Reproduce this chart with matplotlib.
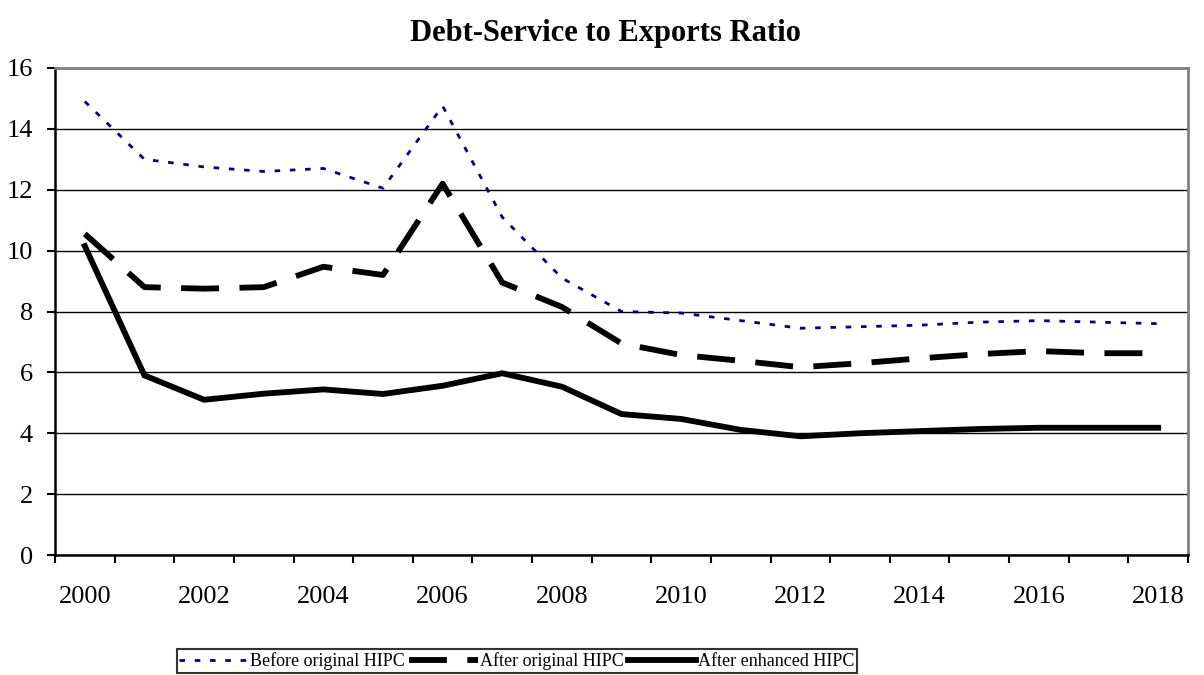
import matplotlib.pyplot as plt
import numpy as np

years = list(range(2000, 2019))
before_original = [14.9, 13.0, 12.75, 12.6, 12.7, 12.05, 14.75, 11.1, 9.1, 8.0,
                   7.95, 7.7, 7.45, 7.5, 7.55, 7.65, 7.7, 7.65, 7.6]
after_original = [10.55, 8.8, 8.75, 8.8, 9.47, 9.2, 12.2, 8.95, 8.15, 6.95,
                  6.57, 6.38, 6.17, 6.3, 6.46, 6.6, 6.7, 6.63, 6.63]
after_enhanced = [10.15, 5.9, 5.1, 5.3, 5.44, 5.29, 5.56, 5.97, 5.53, 4.63,
                  4.47, 4.11, 3.9, 4.0, 4.07, 4.14, 4.18, 4.18, 4.18]

plt.rcParams['font.family'] = ['Liberation Serif', 'DejaVu Serif']

fig = plt.figure(figsize=(12.04, 6.75), dpi=100)
ax = fig.add_axes([55 / 1204, 1 - 555 / 675, (1188 - 55) / 1204, (555 - 68) / 675])

x = np.arange(len(years))
ax.plot(x, before_original, color='#000080', lw=2.0, dashes=(2, 3.5),
        label='Before original HIPC')
ax.plot(x, after_original, color='black', lw=4.2, dashes=(6.5, 3.5),
        label='After original HIPC')
ax.plot(x, after_enhanced, color='black', lw=4.2, solid_joinstyle='miter',
        label='After enhanced HIPC')

ax.set_xlim(-0.5, len(years) - 0.5)
ax.set_ylim(0, 16)
ax.set_yticks(range(0, 17, 2))
ax.yaxis.grid(True, color='black', lw=1.0)
ax.set_axisbelow(True)

ax.set_xticks(x[::2])
ax.set_xticklabels([str(y) for y in years[::2]])
ax.set_xticks(np.arange(-0.5, len(years)), minor=True)
ax.tick_params(axis='x', which='major', length=0, pad=22, labelsize=19)
ax.tick_params(axis='x', which='minor', length=6, width=1.5, direction='out')
ax.tick_params(axis='y', length=6, width=1.5, pad=10, labelsize=19)

for side in ['left', 'bottom']:
    ax.spines[side].set_linewidth(1.8)
    ax.spines[side].set_color('black')
for side in ['top', 'right']:
    ax.spines[side].set_linewidth(2.0)
    ax.spines[side].set_color('#808080')

fig.text(605 / 1204, 1 - 33 / 675, 'Debt-Service to Exports Ratio', ha='center',
         va='center', fontsize=22, fontweight='bold')

leg = fig.legend(loc='center', bbox_to_anchor=(517 / 1204, 1 - 661 / 675),
                 ncol=3, fontsize=13, frameon=True, fancybox=False,
                 handlelength=3.8, handletextpad=0.1, columnspacing=0.25,
                 borderpad=0.15, borderaxespad=0)
leg.get_frame().set_edgecolor('black')
leg.get_frame().set_linewidth(1.5)

fig.savefig('out.png', dpi=100)
